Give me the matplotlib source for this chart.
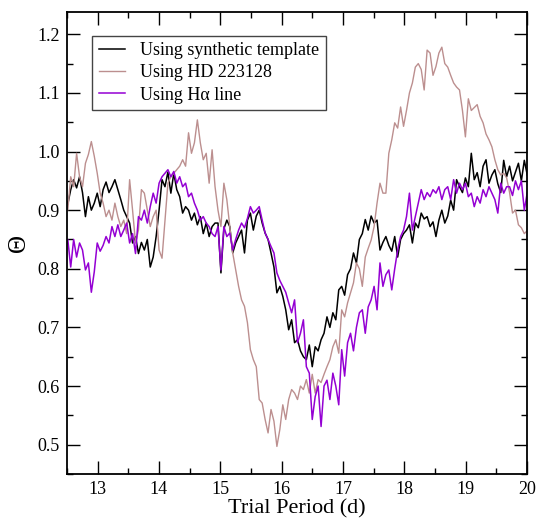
import numpy as np
import matplotlib
matplotlib.use('Agg')
import matplotlib.pyplot as plt
from matplotlib.ticker import MultipleLocator

plt.rcParams['font.family'] = ['Liberation Serif', 'DejaVu Serif']

#trial periods (d), regular grid
period = np.round(12.466 + 0.048 * np.arange(158), 3)

#theta values
theta_synthetic = [
 0.92, 0.91, 0.935, 0.952, 0.938, 0.957, 0.93, 0.889, 0.923, 0.90,
 0.912, 0.929, 0.906, 0.935, 0.948, 0.93, 0.94, 0.952, 0.935, 0.918,
 0.90, 0.889, 0.878, 0.844, 0.855, 0.826, 0.845, 0.832, 0.85, 0.803,
 0.82, 0.855, 0.90, 0.952, 0.94, 0.965, 0.929, 0.963, 0.935, 0.923,
 0.895, 0.906, 0.90, 0.883, 0.895, 0.875, 0.889, 0.86, 0.878, 0.855,
 0.872, 0.878, 0.878, 0.793, 0.868, 0.883, 0.872, 0.827, 0.844, 0.855,
 0.866, 0.827, 0.883, 0.895, 0.866, 0.89, 0.90, 0.878, 0.861, 0.85,
 0.827, 0.803, 0.759, 0.77, 0.753, 0.73, 0.696, 0.713, 0.674, 0.679,
 0.66, 0.65, 0.645, 0.67, 0.633, 0.667, 0.66, 0.679, 0.69, 0.718,
 0.70, 0.725, 0.713, 0.764, 0.77, 0.755, 0.79, 0.80, 0.827, 0.81,
 0.85, 0.86, 0.884, 0.866, 0.89, 0.878, 0.883, 0.832, 0.845, 0.855,
 0.84, 0.83, 0.855, 0.82, 0.85, 0.86, 0.866, 0.875, 0.844, 0.878,
 0.87, 0.895, 0.885, 0.889, 0.872, 0.88, 0.855, 0.883, 0.90, 0.878,
 0.89, 0.917, 0.90, 0.952, 0.94, 0.93, 0.955, 0.94, 0.997, 0.952,
 0.964, 0.94, 0.975, 0.986, 0.946, 0.96, 0.969, 0.945, 0.93, 0.985,
 0.957, 0.975, 0.95, 0.965, 0.98, 0.95, 0.985, 0.96]

theta_hd = [
 0.93, 0.90, 0.957, 0.94, 0.997, 0.957, 0.94, 0.98, 0.995, 1.017,
 0.992, 0.963, 0.929, 0.912, 0.889, 0.90, 0.883, 0.912, 0.889, 0.872,
 0.883, 0.86, 0.952, 0.90, 0.844, 0.866, 0.935, 0.929, 0.90, 0.872,
 0.889, 0.90, 0.832, 0.818, 0.883, 0.946, 0.957, 0.963, 0.969, 0.975,
 0.986, 0.975, 1.032, 0.997, 1.015, 1.054, 1.015, 0.986, 0.997, 0.946,
 1.003, 0.94, 0.90, 0.872, 0.946, 0.918, 0.872, 0.827, 0.798, 0.77,
 0.747, 0.736, 0.708, 0.662, 0.645, 0.633, 0.577, 0.571, 0.543, 0.52,
 0.56, 0.54, 0.497, 0.526, 0.568, 0.543, 0.577, 0.594, 0.588, 0.577,
 0.60, 0.594, 0.611, 0.588, 0.62, 0.588, 0.611, 0.606, 0.62, 0.633,
 0.645, 0.667, 0.679, 0.656, 0.73, 0.718, 0.742, 0.759, 0.776, 0.81,
 0.80, 0.77, 0.82, 0.835, 0.849, 0.872, 0.912, 0.946, 0.929, 0.929,
 0.997, 1.02, 1.049, 1.04, 1.076, 1.043, 1.07, 1.10, 1.117, 1.144,
 1.15, 1.14, 1.105, 1.173, 1.168, 1.13, 1.145, 1.168, 1.178, 1.15,
 1.144, 1.13, 1.117, 1.11, 1.105, 1.07, 1.025, 1.09, 1.07, 1.075,
 1.08, 1.06, 1.049, 1.03, 1.02, 1.008, 0.986, 0.969, 0.96, 0.963,
 0.955, 0.93, 0.895, 0.90, 0.875, 0.87, 0.86, 0.865]

theta_halpha = [
 0.83, 0.85, 0.803, 0.85, 0.82, 0.844, 0.832, 0.798, 0.81, 0.76,
 0.795, 0.844, 0.83, 0.84, 0.855, 0.844, 0.872, 0.855, 0.875, 0.855,
 0.866, 0.878, 0.844, 0.86, 0.826, 0.889, 0.883, 0.90, 0.878, 0.906,
 0.929, 0.912, 0.946, 0.957, 0.963, 0.969, 0.957, 0.966, 0.946, 0.957,
 0.94, 0.946, 0.923, 0.929, 0.912, 0.90, 0.883, 0.889, 0.878, 0.872,
 0.86, 0.855, 0.872, 0.798, 0.872, 0.855, 0.861, 0.832, 0.85, 0.866,
 0.878, 0.87, 0.886, 0.906, 0.895, 0.90, 0.906, 0.883, 0.861, 0.85,
 0.838, 0.827, 0.793, 0.78, 0.77, 0.76, 0.742, 0.725, 0.747, 0.674,
 0.69, 0.713, 0.633, 0.622, 0.543, 0.582, 0.60, 0.531, 0.60, 0.61,
 0.577, 0.622, 0.60, 0.568, 0.662, 0.617, 0.674, 0.69, 0.66, 0.70,
 0.725, 0.73, 0.69, 0.735, 0.747, 0.77, 0.73, 0.81, 0.77, 0.79,
 0.798, 0.764, 0.80, 0.832, 0.855, 0.866, 0.889, 0.929, 0.866, 0.889,
 0.912, 0.935, 0.918, 0.93, 0.923, 0.935, 0.929, 0.94, 0.918, 0.935,
 0.94, 0.918, 0.952, 0.929, 0.946, 0.935, 0.946, 0.923, 0.929, 0.906,
 0.923, 0.912, 0.935, 0.923, 0.94, 0.929, 0.918, 0.895, 0.946, 0.929,
 0.94, 0.94, 0.925, 0.95, 0.935, 0.95, 0.90, 0.93]

labels = ['Using synthetic template', 'Using HD 223128', 'Using Hα line']
colors = ['black', '#bc8f8f', '#9400d3']

fig = plt.figure(figsize=(5.44, 5.22), dpi=100)
ax = fig.add_axes([0.123, 0.092, 0.846, 0.885])

ax.plot(period, theta_synthetic, color=colors[0], lw=1.1, label=labels[0])
ax.plot(period, theta_hd, color=colors[1], lw=1.0, label=labels[1])
ax.plot(period, theta_halpha, color=colors[2], lw=1.1, label=labels[2])

ax.set_xlim(12.5, 20)
ax.set_ylim(0.45, 1.238)
ax.xaxis.set_major_locator(MultipleLocator(1))
ax.xaxis.set_minor_locator(MultipleLocator(0.5))
ax.yaxis.set_major_locator(MultipleLocator(0.1))
ax.yaxis.set_minor_locator(MultipleLocator(0.05))
ax.yaxis.set_major_formatter(plt.FormatStrFormatter('%.1f'))

ax.tick_params(which='both', direction='in', top=True, right=True, labelsize=13, pad=5)
ax.tick_params(which='major', length=9.5, width=1.0)
ax.tick_params(which='minor', length=4.5, width=1.0)
for sp in ax.spines.values():
    sp.set_linewidth(1.3)

ax.set_xlabel('Trial Period (d)', fontsize=16, labelpad=1)
ax.set_ylabel('Θ', fontsize=18, labelpad=5)

leg = ax.legend(loc='upper left', bbox_to_anchor=(0.055, 0.949), borderaxespad=0,
                fontsize=13, fancybox=False, framealpha=1, edgecolor='#444444',
                handlelength=1.45, handletextpad=0.8, labelspacing=0.28, borderpad=0.38)
leg.get_frame().set_linewidth(1.0)

fig.savefig('out.png', dpi=100)
